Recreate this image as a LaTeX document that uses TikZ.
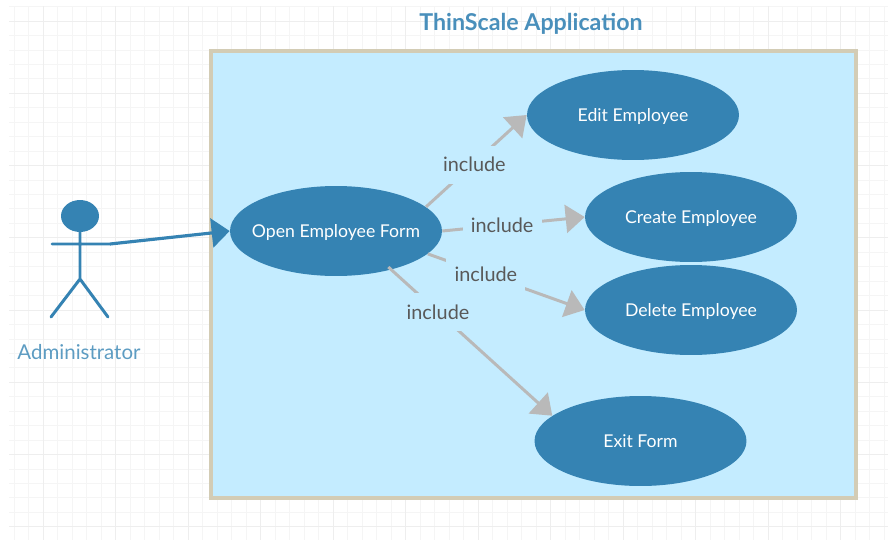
\documentclass[tikz,border=0pt]{standalone}
\usepackage{fontspec}
\setmainfont{Lato}
\usepackage{tikz}
\usetikzlibrary{arrows.meta,shapes.geometric}
\definecolor{usecase_blue}{HTML}{3583B3}
\definecolor{system_fill}{HTML}{C4ECFF}
\definecolor{system_line}{HTML}{D3CCB5}
\definecolor{edge_grey}{HTML}{B9B9B9}
\definecolor{grid_minor}{HTML}{F5F5F5}
\definecolor{grid_major}{HTML}{EEEEEE}
\tikzstyle{usecase} = [ellipse, fill=usecase_blue, text=white, inner ysep=0pt, inner xsep=-0.6cm, minimum width=4.24cm, minimum height=1.8cm, text height=8.2pt, text depth=0.8pt, font=\fontsize{10.05pt}{12pt}\selectfont]
\tikzstyle{edge_include} = [draw=edge_grey, line width=1.7pt, -{Triangle[length=0.38cm,width=0.56cm]}]
\tikzstyle{edge_assoc} = [draw=usecase_blue, line width=1.8pt, -{Triangle[length=0.36cm,width=0.58cm]}]
\tikzstyle{label_include} = [fill=system_fill, text=black!65, inner sep=0pt, minimum width=1.58cm, minimum height=0.76cm, font=\fontsize{11.3pt}{13pt}\selectfont]
\tikzstyle{actor_line} = [draw=usecase_blue, line width=1.7pt, line cap=round]

\begin{document}
\begin{tikzpicture}[x=0.02cm,y=-0.02cm]
	\useasboundingbox (0,0) rectangle (892,541);
	% background grid
	\foreach \i in {0,...,60} {
		\draw[grid_minor, line width=0.5pt] ({14+14.5*\i},6) -- ({14+14.5*\i},540);
	}
	\foreach \i in {0,...,36} {
		\draw[grid_minor, line width=0.5pt] (9,{6.6+14.45*\i}) -- (888,{6.6+14.45*\i});
	}
	\foreach \i in {0,...,11} {
		\draw[grid_major, line width=0.5pt] ({43+72.5*\i},6) -- ({43+72.5*\i},540);
	}
	\foreach \i in {0,...,7} {
		\draw[grid_major, line width=0.5pt] (9,{21+72.25*\i}) -- (888,{21+72.25*\i});
	}
	% system box
	\node (title) at (531,24) [text=usecase_blue!90!white, font=\fontsize{13.2pt}{16pt}\selectfont\bfseries] {ThinScale Application};
	\node (system) at (533.5,274.5) [rectangle, draw=system_line, fill=system_fill, line width=1.8pt, minimum width=12.9cm, minimum height=8.94cm, inner sep=0pt] {};
	% use cases
	\node (open) at (336,231) [usecase] {Open Employee Form};
	\node (edit) at (633,115) [usecase] {Edit Employee};
	\node (create) at (691,217) [usecase] {Create Employee};
	\node (delete) at (691,310) [usecase] {Delete Employee};
	\node (exit) at (640.5,441) [usecase] {Exit Form};
	\draw[edge_include] (open.15) -- node[label_include,pos=.48,yshift=-1pt] {include} (edit.west);
	\draw[edge_include] (open.east) -- node[label_include,pos=.42] {include} (create.west);
	\draw[edge_include] (open.-14) -- node[label_include,pos=.37] {include} (delete.west);
	\draw[edge_include, shorten <=-0.08cm] (open.-35) -- node[label_include,pos=.29] {include} (exit.164);
	% actor
	\node (head) at (80,216) [ellipse, fill=usecase_blue, inner sep=0pt, minimum width=0.76cm, minimum height=0.64cm] {};
	\coordinate (crotch) at (80,279);
	\coordinate (hand_l) at (52,244);
	\coordinate (hand_r) at (110,244);
	\coordinate (foot_l) at (51,317);
	\coordinate (foot_r) at (108,317);
	\draw[actor_line] (head.south) -- (crotch) (hand_l) -- (hand_r) (foot_l) -- (crotch) -- (foot_r);
	\draw[edge_assoc] (hand_r) -- (open.west);
	\node (admin) at (79,352) [text=usecase_blue!80!white, font=\fontsize{11.65pt}{14pt}\selectfont] {Administrator};
\end{tikzpicture}
\end{document}
